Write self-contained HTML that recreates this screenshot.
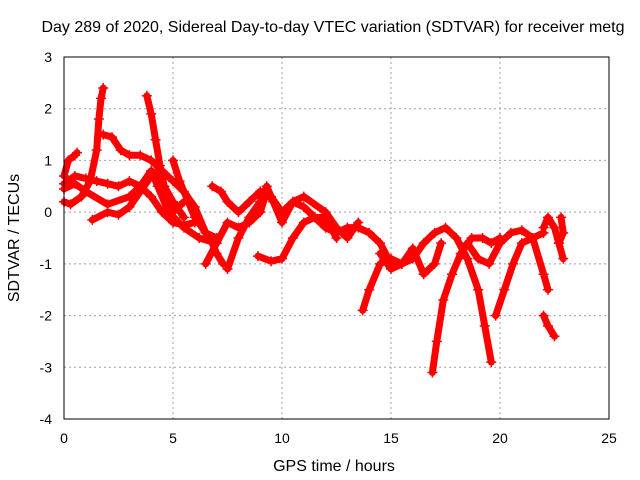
<!DOCTYPE html>
<html><head><meta charset="utf-8"><style>
body{margin:0;background:#fff}
svg{display:block;font-family:"Liberation Sans",sans-serif}
</style></head><body>
<svg id="chart" width="640" height="480">
<rect x="0" y="0" width="640" height="480" fill="#fff"/>
<text x="333" y="32" font-size="16" text-anchor="middle">Day 289 of 2020, Sidereal Day-to-day VTEC variation (SDTVAR) for receiver metg</text>
<text x="334" y="471" font-size="16" text-anchor="middle">GPS time / hours</text>
<text transform="translate(19,238) rotate(-90)" font-size="16" text-anchor="middle">SDTVAR / TECUs</text>
<g id="grid"></g><g id="ticks"></g><g id="marks"></g>
<rect x="64" y="57" width="545" height="362" fill="none" stroke="#000" stroke-width="1"/>
</svg>
<script>
const xTicks=[0,5,10,15,20,25];
const yTicks=[3,2,1,0,-1,-2,-3,-4];
const track1=[[0,0.2],[0.3,0.15],[0.8,0.3],[1.2,0.6],[1.5,1.2],[1.6,1.8],[1.7,2.2],[1.8,2.4]];
const track2=[[0,0.7],[0.2,1.0],[0.5,1.1],[0.6,1.15]];
const track3=[[0,0.55],[0.5,0.7],[1,0.65],[1.5,0.6],[2,0.55],[2.5,0.5],[3,0.6],[3.5,0.5],[4,0.3],[4.5,0.0],[5,-0.2],[5.5,-0.25],[6,-0.2]];
const track4=[[0,0.45],[0.5,0.55],[1,0.4],[2,0.15],[3,0.3],[3.5,0.5],[4,0.8],[4.3,0.5],[4.8,0.0],[5.5,-0.3],[6.2,-0.5],[7,-0.6]];
const track5=[[1.3,-0.15],[2,0],[2.5,-0.05],[3,0.1],[3.5,0.4],[4,0.7],[4.3,0.8],[4.6,0.5],[5,0.0],[5.5,0.2]];
const track6=[[1.8,1.5],[2.2,1.45],[2.6,1.2],[3,1.1],[3.5,1.1],[4,1.0],[4.5,0.8],[5,0.6],[5.5,0.4],[6,0.1],[6.5,-0.4],[7,-0.5]];
const track7=[[3.8,2.25],[4,1.9],[4.2,1.4],[4.4,0.9],[4.6,0.5],[5,0.2],[5.5,-0.1]];
const track8=[[5,1.0],[5.3,0.6],[5.7,0.2],[6,-0.1],[6.5,-0.4],[6.8,-0.6],[7,-0.8],[7.3,-1.0]];
const track9=[[6.5,-1.0],[7,-0.6],[7.5,-0.2],[8,-0.3],[8.5,-0.2],[9,0.0],[9.3,0.4],[9.6,0.2]];
const track10=[[6.8,0.5],[7.2,0.4],[7.5,0.2],[8,0],[8.5,0.2],[9,0.4],[9.5,0.3],[10,0.0],[10.5,0.2],[11,0.1],[11.5,-0.1],[12,-0.3],[12.5,-0.4],[13,-0.3],[13.5,-0.3],[14,-0.4],[14.5,-0.6],[15,-1.0]];
const track11=[[8.9,-0.85],[9.5,-0.95],[10,-0.9],[10.5,-0.5],[11,-0.2],[11.5,-0.1],[12,-0.1],[12.5,-0.5]];
const track12=[[7.5,-1.1],[8,-0.5],[8.5,-0.1],[9,0.2],[9.3,0.5],[9.6,0.2],[10,-0.2],[10.5,0.2],[11,0.3],[12,0.0],[12.5,-0.3],[13,-0.5],[13.5,-0.2]];
const track13=[[13.7,-1.9],[14,-1.5],[14.5,-1.0],[15,-0.9],[15.5,-1.0],[16,-0.9],[16.5,-0.6],[17,-0.4],[17.5,-0.3],[18,-0.5],[18.5,-0.9],[19,-1.5],[19.3,-2.2],[19.6,-2.9]];
const track14=[[14.5,-0.8],[15,-1.1],[15.5,-1.0],[16,-0.7],[16.5,-1.2],[17,-1.0],[17.3,-0.6]];
const track15=[[16.9,-3.1],[17.1,-2.5],[17.4,-1.7],[17.8,-1.2],[18.2,-0.8],[18.7,-0.5],[19.2,-0.5],[19.6,-0.6],[20,-0.5]];
const track16=[[19.8,-2.0],[20.2,-1.5],[20.6,-1.0],[21,-0.6],[21.5,-0.5],[22,-0.4]];
const track17=[[18.5,-0.6],[19,-0.9],[19.5,-1.0],[20,-0.6],[20.5,-0.4],[21,-0.35],[21.5,-0.5],[22,-1.2],[22.2,-1.5]];
const track18=[[22,-0.3],[22.2,-0.1],[22.5,-0.3],[22.7,-0.6],[22.9,-0.9]];
const track19=[[22,-2.0],[22.2,-2.2],[22.5,-2.4]];
const track20=[[22.8,-0.1],[22.9,-0.4],[22.7,-0.6]];
const tracks=[track1,track2,track3,track4,track5,track6,track7,track8,track9,track10,track11,track12,track13,track14,track15,track16,track17,track18,track19,track20];

const NS="http://www.w3.org/2000/svg";
const X0=64,X1=609,Y0=419,Y1=57,XMIN=0,XMAX=25,YMIN=-4,YMAX=3;
function sx(v){return X0+(v-XMIN)/(XMAX-XMIN)*(X1-X0);}
function sy(v){return Y0-(v-YMIN)/(YMAX-YMIN)*(Y0-Y1);}
function mk(tag,attrs,parent){const e=document.createElementNS(NS,tag);for(const k in attrs)e.setAttribute(k,attrs[k]);parent.appendChild(e);return e;}
const grid=document.getElementById('grid'),ticks=document.getElementById('ticks'),marks=document.getElementById('marks');
xTicks.forEach(t=>{
  const x=sx(t);
  if(t>XMIN&&t<XMAX){const g=mk('line',{x1:x,x2:x,y1:Y1,y2:Y0,stroke:'#a0a0a0','stroke-dasharray':'2,3'},grid);
  
  }
  const l=mk('text',{x:x,y:Y0+24,'font-size':14,'text-anchor':'middle'},ticks);l.textContent=t;
  
  
});
yTicks.forEach(t=>{
  const y=sy(t);
  if(t>YMIN&&t<YMAX){const g=mk('line',{x1:X0,x2:X1,y1:y,y2:y,stroke:'#a0a0a0','stroke-dasharray':'2,3'},grid);
  
  }
  const l=mk('text',{x:X0-12,y:y+5,'font-size':14,'text-anchor':'end'},ticks);l.textContent=t;
  
  
});
tracks.forEach((tr,i)=>{
  const pts=tr.map(p=>sx(p[0])+','+sy(p[1])).join(' ');
  const pl=mk('polyline',{points:pts,fill:'none',stroke:'#ff0000','stroke-width':7,'stroke-linejoin':'round','stroke-linecap':'round'},marks);
  
  
  tr.forEach(p=>{
    const x=sx(p[0]),y=sy(p[1]);
    const m=mk('path',{d:`M${x-5},${y}H${x+5}M${x},${y-5}V${y+5}`,stroke:'#ff0000','stroke-width':1.5},marks);
    
    
  });
});
</script>
</body></html>
